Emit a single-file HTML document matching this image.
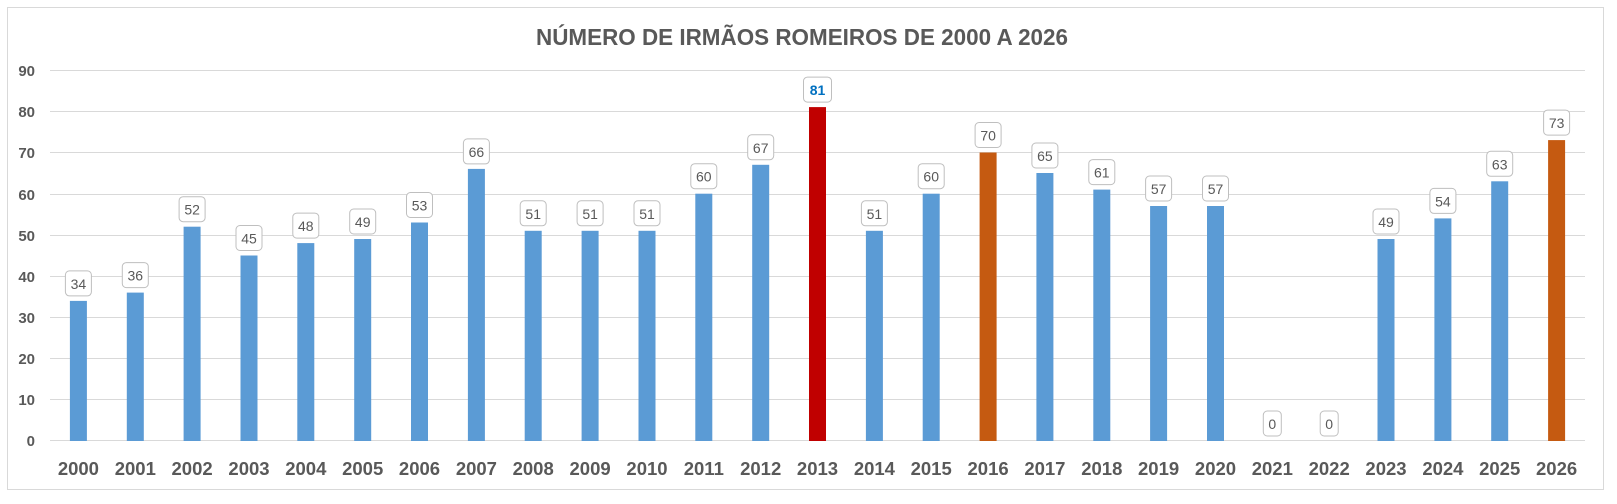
<!DOCTYPE html>
<html><head><meta charset="utf-8"><style>
html,body{margin:0;padding:0;background:#fff;overflow:hidden;}
svg{display:block;font-family:"Liberation Sans",sans-serif;}
.lb rect{fill:#fff;stroke:#bfbfbf;stroke-width:1;}
.lb text{font-size:14px;fill:#595959;text-anchor:middle;}
.yr{font-size:18.5px;font-weight:bold;fill:#595959;text-anchor:middle;}
.ya{font-size:15px;font-weight:bold;fill:#595959;text-anchor:end;}
</style></head><body>
<svg width="1617" height="504" viewBox="0 0 1617 504">
<rect x="7.5" y="7.5" width="1596" height="482" fill="#fff" stroke="#d9d9d9"/>
<text x="802" y="45" font-size="23.5" font-weight="bold" fill="#595959" text-anchor="middle" textLength="532" lengthAdjust="spacingAndGlyphs">NÚMERO DE IRMÃOS ROMEIROS DE 2000 A 2026</text>
<g stroke="#d9d9d9" stroke-width="1">
<line x1="50" x2="1585" y1="70.5" y2="70.5"/>
<line x1="50" x2="1585" y1="111.5" y2="111.5"/>
<line x1="50" x2="1585" y1="152.5" y2="152.5"/>
<line x1="50" x2="1585" y1="194.5" y2="194.5"/>
<line x1="50" x2="1585" y1="235.5" y2="235.5"/>
<line x1="50" x2="1585" y1="276.5" y2="276.5"/>
<line x1="50" x2="1585" y1="317.5" y2="317.5"/>
<line x1="50" x2="1585" y1="358.5" y2="358.5"/>
<line x1="50" x2="1585" y1="399.5" y2="399.5"/>
<line x1="50" x2="1585" y1="440.5" y2="440.5"/>
</g>
<g class="ya">
<text x="35" y="76">90</text><text x="35" y="117">80</text><text x="35" y="158">70</text>
<text x="35" y="200">60</text><text x="35" y="241">50</text><text x="35" y="282">40</text>
<text x="35" y="323">30</text><text x="35" y="364">20</text><text x="35" y="405">10</text>
<text x="35" y="446">0</text>
</g>
<g fill="#5b9bd5">
<rect x="69.9" y="300.9" width="17" height="140.1"/>
<rect x="126.8" y="292.6" width="17" height="148.4"/>
<rect x="183.6" y="226.7" width="17" height="214.3"/>
<rect x="240.5" y="255.5" width="17" height="185.5"/>
<rect x="297.3" y="243.1" width="17" height="197.9"/>
<rect x="354.2" y="239.0" width="17" height="202"/>
<rect x="411" y="222.5" width="17" height="218.5"/>
<rect x="467.9" y="168.9" width="17" height="272.1"/>
<rect x="524.7" y="230.8" width="17" height="210.2"/>
<rect x="581.6" y="230.8" width="17" height="210.2"/>
<rect x="638.5" y="230.8" width="17" height="210.2"/>
<rect x="695.3" y="193.7" width="17" height="247.3"/>
<rect x="752.2" y="164.8" width="17" height="276.2"/>
<rect x="865.9" y="230.8" width="17" height="210.2"/>
<rect x="922.7" y="193.7" width="17" height="247.3"/>
<rect x="1036.4" y="173.0" width="17" height="268"/>
<rect x="1093.3" y="189.6" width="17" height="251.4"/>
<rect x="1150.1" y="206.0" width="17" height="235"/>
<rect x="1207" y="206.0" width="17" height="235"/>
<rect x="1377.5" y="239.0" width="17" height="202"/>
<rect x="1434.4" y="218.4" width="17" height="222.6"/>
<rect x="1491.2" y="181.3" width="17" height="259.7"/>
</g>
<rect x="809" y="107.1" width="17" height="333.9" fill="#c00000"/>
<rect x="979.6" y="152.5" width="17" height="288.5" fill="#c55a11"/>
<rect x="1548.1" y="140.1" width="17" height="300.9" fill="#c55a11"/>
<g class="lb">
<g transform="translate(78.4,300.9)"><rect x="-13" y="-30" width="26" height="25" rx="4"/><text y="-12">34</text></g>
<g transform="translate(135.3,292.6)"><rect x="-13" y="-30" width="26" height="25" rx="4"/><text y="-12">36</text></g>
<g transform="translate(192.1,226.7)"><rect x="-13" y="-30" width="26" height="25" rx="4"/><text y="-12">52</text></g>
<g transform="translate(249,255.5)"><rect x="-13" y="-30" width="26" height="25" rx="4"/><text y="-12">45</text></g>
<g transform="translate(305.8,243.1)"><rect x="-13" y="-30" width="26" height="25" rx="4"/><text y="-12">48</text></g>
<g transform="translate(362.7,239.0)"><rect x="-13" y="-30" width="26" height="25" rx="4"/><text y="-12">49</text></g>
<g transform="translate(419.5,222.5)"><rect x="-13" y="-30" width="26" height="25" rx="4"/><text y="-12">53</text></g>
<g transform="translate(476.4,168.9)"><rect x="-13" y="-30" width="26" height="25" rx="4"/><text y="-12">66</text></g>
<g transform="translate(533.2,230.8)"><rect x="-13" y="-30" width="26" height="25" rx="4"/><text y="-12">51</text></g>
<g transform="translate(590.1,230.8)"><rect x="-13" y="-30" width="26" height="25" rx="4"/><text y="-12">51</text></g>
<g transform="translate(647,230.8)"><rect x="-13" y="-30" width="26" height="25" rx="4"/><text y="-12">51</text></g>
<g transform="translate(703.8,193.7)"><rect x="-13" y="-30" width="26" height="25" rx="4"/><text y="-12">60</text></g>
<g transform="translate(760.7,164.8)"><rect x="-13" y="-30" width="26" height="25" rx="4"/><text y="-12">67</text></g>
<g transform="translate(817.5,107.1)"><rect x="-14" y="-30" width="28" height="25" rx="4"/><text y="-12" style="fill:#0070c0;font-weight:bold">81</text></g>
<g transform="translate(874.4,230.8)"><rect x="-13" y="-30" width="26" height="25" rx="4"/><text y="-12">51</text></g>
<g transform="translate(931.2,193.7)"><rect x="-13" y="-30" width="26" height="25" rx="4"/><text y="-12">60</text></g>
<g transform="translate(988.1,152.5)"><rect x="-13" y="-30" width="26" height="25" rx="4"/><text y="-12">70</text></g>
<g transform="translate(1044.9,173.0)"><rect x="-13" y="-30" width="26" height="25" rx="4"/><text y="-12">65</text></g>
<g transform="translate(1101.8,189.6)"><rect x="-13" y="-30" width="26" height="25" rx="4"/><text y="-12">61</text></g>
<g transform="translate(1158.6,206.0)"><rect x="-13" y="-30" width="26" height="25" rx="4"/><text y="-12">57</text></g>
<g transform="translate(1215.5,206.0)"><rect x="-13" y="-30" width="26" height="25" rx="4"/><text y="-12">57</text></g>
<g transform="translate(1272.3,441)"><rect x="-9" y="-30" width="18" height="25" rx="4"/><text y="-12">0</text></g>
<g transform="translate(1329.2,441)"><rect x="-9" y="-30" width="18" height="25" rx="4"/><text y="-12">0</text></g>
<g transform="translate(1386,239.0)"><rect x="-13" y="-30" width="26" height="25" rx="4"/><text y="-12">49</text></g>
<g transform="translate(1442.9,218.4)"><rect x="-13" y="-30" width="26" height="25" rx="4"/><text y="-12">54</text></g>
<g transform="translate(1499.7,181.3)"><rect x="-13" y="-30" width="26" height="25" rx="4"/><text y="-12">63</text></g>
<g transform="translate(1556.6,140.1)"><rect x="-13" y="-30" width="26" height="25" rx="4"/><text y="-12">73</text></g>
</g>
<g class="yr">
<text x="78.4" y="475">2000</text><text x="135.3" y="475">2001</text><text x="192.1" y="475">2002</text>
<text x="249" y="475">2003</text><text x="305.8" y="475">2004</text><text x="362.7" y="475">2005</text>
<text x="419.5" y="475">2006</text><text x="476.4" y="475">2007</text><text x="533.2" y="475">2008</text>
<text x="590.1" y="475">2009</text><text x="647" y="475">2010</text><text x="703.8" y="475">2011</text>
<text x="760.7" y="475">2012</text><text x="817.5" y="475">2013</text><text x="874.4" y="475">2014</text>
<text x="931.2" y="475">2015</text><text x="988.1" y="475">2016</text><text x="1044.9" y="475">2017</text>
<text x="1101.8" y="475">2018</text><text x="1158.6" y="475">2019</text><text x="1215.5" y="475">2020</text>
<text x="1272.3" y="475">2021</text><text x="1329.2" y="475">2022</text><text x="1386" y="475">2023</text>
<text x="1442.9" y="475">2024</text><text x="1499.7" y="475">2025</text><text x="1556.6" y="475">2026</text>
</g>
</svg>
</body></html>
